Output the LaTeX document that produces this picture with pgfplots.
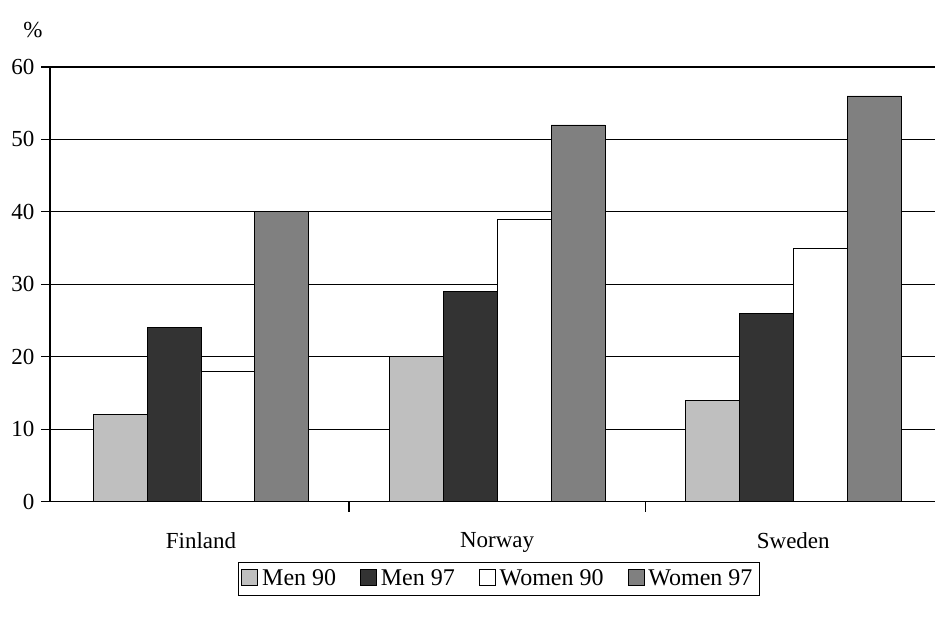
\documentclass[border=0pt]{standalone}
\usepackage{pgfplots}
\pgfplotsset{compat=1.18}
\usepackage{fontspec}
\setmainfont{Liberation Serif}
\begin{document}
\begin{tikzpicture}
\begin{axis}[
  scale only axis, width=443pt, height=217.5pt,
  at={(0,0)}, anchor=south west,
  xmin=-0.51, xmax=2.48, ymin=0, ymax=60,
  ytick={0,10,...,60},
  xtick={0,1,2}, xticklabels={Finland,Norway,Sweden},
  minor xtick={0.5,1.5},
  major x tick style={draw=none},
  minor tick length=5pt,
  tick align=outside, tick pos=left,
  axis x line*=bottom, axis y line*=left,
  ymajorgrids, grid style={black, line width=0.6pt},
  axis line style={black, line width=0.6pt},
  tick style={black, line width=0.6pt},
  font=\fontsize{11.5}{13}\selectfont,
  /pgf/number format/assume math mode=true,
  ybar=0pt, bar width=0.182,
  xticklabel style={yshift=-7.5pt},
  legend columns=4,
  legend style={at={(0.507,-0.177)}, anchor=center, draw=black, font=\fontsize{12}{13}\selectfont,
    /tikz/every even column/.append style={column sep=10pt}, inner sep=1.5pt},
  legend image code/.code={\draw[#1] (0pt,-3.5pt) rectangle (8pt,4.5pt);},
]
\addplot[fill=black!25, draw=black] coordinates {(0,12) (1,20) (2,14)};
\addplot[fill=black!80, draw=black] coordinates {(0,24) (1,29) (2,26)};
\addplot[fill=white, draw=black] coordinates {(0,18) (1,39) (2,35)};
\addplot[fill=black!50, draw=black] coordinates {(0,40) (1,52) (2,56)};
\legend{Men 90, Men 97, Women 90, Women 97}
\end{axis}
\node[font=\fontsize{11.5}{13}\selectfont] at (-8.5pt,236pt) {\%};
\useasboundingbox (-25pt,-61pt) rectangle (443pt,251pt);
\end{tikzpicture}
\end{document}
